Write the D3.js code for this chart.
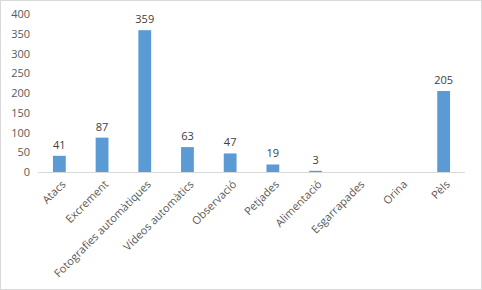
<!DOCTYPE html>
<html>
<head>
<meta charset="utf-8">
<script src="https://cdn.jsdelivr.net/npm/d3@7"></script>
<style>
  body { margin: 0; background: #fff; }
  svg text { font-family: "Open Sans", "Liberation Sans", sans-serif; }
</style>
</head>
<body>
<svg id="drawing_region"></svg>
<script>
const categories = ["Atacs", "Excrement", "Fotografies automàtiques", "Vídeos automàtics",
    "Observació", "Petjades", "Alimentació", "Esgarrapades", "Orina", "Pèls"];
const values = [41, 87, 359, 63, 47, 19, 3, null, null, 205];
const yTicks = [0, 50, 100, 150, 200, 250, 300, 350, 400];

const width = 482, height = 290;
const margin = {top: 14, right: 17, bottom: 118, left: 38};

const svg = d3.select('#drawing_region')
    .attr('width', width)
    .attr('height', height);

// chart frame
svg.append('rect')
    .attr('x', 0.5).attr('y', 0.5)
    .attr('width', width - 1).attr('height', height - 1)
    .attr('fill', '#fff')
    .attr('stroke', '#d9d9d9');

const chart = svg.append('g')
    .attr('transform', `translate(${margin.left}, ${margin.top})`);

const inner_width = width - margin.left - margin.right;
const inner_height = height - margin.top - margin.bottom;

const xscale = d3.scaleBand()
    .domain(categories)
    .range([0, inner_width])
    .paddingInner(0.7)
    .paddingOuter(0.35);

const yscale = d3.scaleLinear()
    .domain([0, 400])
    .range([inner_height, 0]);

// y axis (labels only)
const yaxis = d3.axisLeft(yscale)
    .tickValues(yTicks)
    .tickSize(0)
    .tickPadding(8);
const yaxis_group = chart.append('g').call(yaxis);
yaxis_group.select('.domain').remove();
yaxis_group.selectAll('text')
    .attr('fill', '#595959')
    .style('font-size', '11px');

// bars
chart.selectAll('rect.bar')
    .data(categories.map((c, i) => ({c, v: values[i]})).filter(d => d.v !== null))
    .enter()
    .append('rect')
    .attr('class', 'bar')
    .attr('x', d => xscale(d.c))
    .attr('y', d => yscale(d.v))
    .attr('width', xscale.bandwidth())
    .attr('height', d => inner_height - yscale(d.v))
    .attr('fill', '#5b9bd5');

// value labels
chart.selectAll('text.val')
    .data(categories.map((c, i) => ({c, v: values[i]})).filter(d => d.v !== null))
    .enter()
    .append('text')
    .attr('class', 'val')
    .attr('x', d => xscale(d.c) + xscale.bandwidth() / 2)
    .attr('y', d => yscale(d.v) - 7)
    .attr('text-anchor', 'middle')
    .attr('fill', '#404040')
    .style('font-size', '11px')
    .text(d => d.v);

// x axis
const xaxis = d3.axisBottom(xscale).tickSize(0).tickPadding(0);
const xaxis_group = chart.append('g')
    .attr('transform', `translate(0, ${inner_height})`)
    .call(xaxis);
xaxis_group.select('.domain')
    .attr('stroke', '#d9d9d9')
    .attr('d', `M0,0.5H${inner_width}`);
xaxis_group.selectAll('text')
    .attr('fill', '#595959')
    .style('font-size', '11px')
    .attr('text-anchor', 'end')
    .attr('dy', null)
    .attr('transform', 'translate(7, 13) rotate(-45)');
</script>
</body>
</html>
